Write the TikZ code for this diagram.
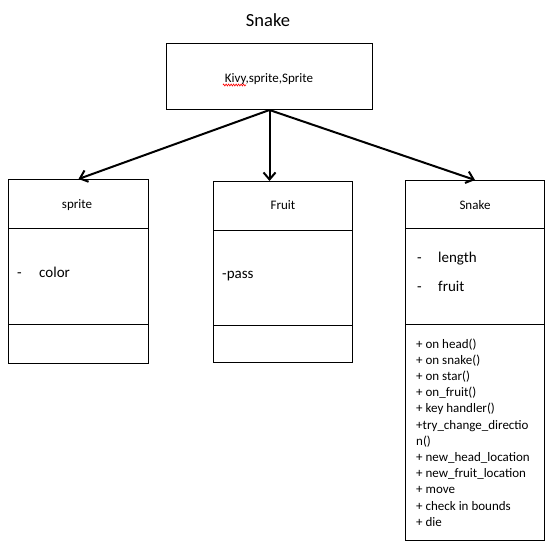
\documentclass[tikz,border=0pt]{standalone}
\usepackage{fontspec}
\setmainfont{Carlito}
\usetikzlibrary{arrows.meta,decorations.pathmorphing}
\begin{document}
\begin{tikzpicture}[x=1pt,y=-1pt,
  box/.style={draw,line width=1pt,rectangle,inner sep=0,anchor=north west},
  divider/.style={line width=1pt},
  conn/.style={line width=2pt,-{Straight Barb[length=7pt,width=12pt,line width=2pt]}},
  lbl/.style={inner sep=0,anchor=base,font=\fontsize{13}{15}\selectfont},
  attr/.style={inner sep=0,anchor=base west,font=\fontsize{15}{18}\selectfont},
  meth/.style={inner sep=0,anchor=base west,font=\fontsize{13}{15}\selectfont},
]
\useasboundingbox (0,0) rectangle (557,557);
\fill[white] (0,0) rectangle (557,557);
% title
\node[inner sep=0,anchor=base,font=\fontsize{18.5}{22}\selectfont] (title) at (268,26) {Snake};
% top box
\node[box,minimum width=206pt,minimum height=66pt] (top) at (166,43) {};
\node[lbl] (toplabel) at (269,82) {Kivy,sprite,Sprite};
\draw[red,line width=0.6pt,decorate,decoration={zigzag,segment length=2.5pt,amplitude=1pt}] (223,85) -- (246,85);
% boxes
\node[box,minimum width=140pt,minimum height=184pt] (sprite) at (8,179) {};
\node[box,minimum width=139pt,minimum height=181pt] (fruit) at (213,181) {};
\node[box,minimum width=139pt,minimum height=360pt] (snake) at (405,180) {};
% dividers
\coordinate (s1l) at (8,228); \coordinate (s1r) at (148,228);
\coordinate (s2l) at (8,324); \coordinate (s2r) at (148,324);
\draw[divider] (s1l) -- (s1r); \draw[divider] (s2l) -- (s2r);
\coordinate (f1l) at (213,230); \coordinate (f1r) at (352,230);
\coordinate (f2l) at (213,325); \coordinate (f2r) at (352,325);
\draw[divider] (f1l) -- (f1r); \draw[divider] (f2l) -- (f2r);
\coordinate (k1l) at (405,228); \coordinate (k1r) at (544,228);
\coordinate (k2l) at (405,324); \coordinate (k2r) at (544,324);
\draw[divider] (k1l) -- (k1r); \draw[divider] (k2l) -- (k2r);
% class names
\node[lbl] (spritename) at (77,208) {sprite};
\node[lbl] (fruitname) at (283,209) {Fruit};
\node[lbl] (snakename) at (475,209) {Snake};
% attributes
\node[attr] (sdash) at (17,277) {-};
\node[attr] (scolor) at (39,277) {color};
\node[attr] (fpass) at (222,278) {-pass};
\node[attr] (kdash1) at (417,262) {-};
\node[attr] (klen) at (438,262) {length};
\node[attr] (kdash2) at (417,291) {-};
\node[attr] (kfruit) at (438,291) {fruit};
% methods
\foreach \t [count=\i from 0] in {+ on head(),+ on snake(),+ on star(),+ on\_fruit(),+ key handler(),+try\_change\_directio,n(),+ new\_head\_location,+ new\_fruit\_location,+ move,+ check in bounds,+ die}
  \node[meth] (m\i) at (416,348+16.2*\i) {\t};
% connectors
\draw[conn] (top.south) -- (sprite.north);
\draw[conn] (top.south) -- (top.south |- fruit.north);
\draw[conn] (top.south) -- (snake.north);
\end{tikzpicture}
\end{document}
